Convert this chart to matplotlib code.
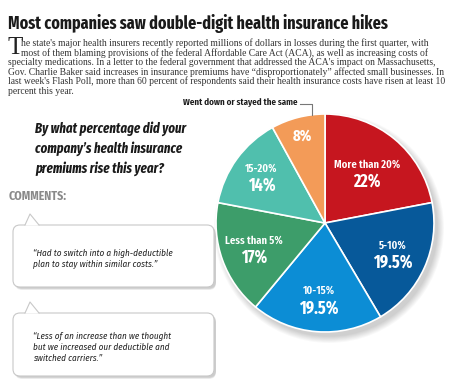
import matplotlib
matplotlib.use("Agg")
import matplotlib.pyplot as plt
import numpy as np
from matplotlib.patches import FancyBboxPatch, Polygon, Circle

W, H = 450, 386

# ---- data ----
categories = ["More than 20%", "5-10%", "10-15%", "Less than 5%", "15-20%",
              "Went down or stayed the same"]
shares = [22, 19.5, 19.5, 17, 14, 8]
value_labels = ["22%", "19.5%", "19.5%", "17%", "14%", "8%"]
colors = ["#C6161F", "#07599A", "#0C8DD5", "#3D9D6A", "#50BFAD", "#F39B58"]

title = "Most companies saw double-digit health insurance hikes"
body_lines = [
    "he state's major health insurers recently reported millions of dollars in losses during the first quarter, with",
    "most of them blaming provisions of the federal Affordable Care Act (ACA), as well as increasing costs of",
    "specialty medications. In a letter to the federal government that addressed the ACA's impact on Massachusetts,",
    "Gov. Charlie Baker said increases in insurance premiums have \u201cdisproportionately\u201d affected small businesses. In",
    "last week's Flash Poll, more than 60 percent of respondents said their health insurance costs have risen at least 10",
    "percent this year.",
]
question = "By what percentage did your\ncompany\u2019s health insurance\npremiums rise this year?"
comments = [
    "\u201cHad to switch into a high-deductible\nplan to stay within similar costs.\u201d",
    "\u201cLess of an increase than we thought\nbut we increased our deductible and\nswitched carriers.\u201d",
]

XCOND = ["Fira Sans Extra Condensed", "DejaVu Sans"]
COND = ["Fira Sans Condensed", "DejaVu Sans"]
SERIF = ["Liberation Serif", "DejaVu Serif"]


def Y(y):
    return H - y


fig = plt.figure(figsize=(W / 100, H / 100), dpi=100)
ax = fig.add_axes([0, 0, 1, 1])

# title + intro text
ax.text(8, Y(29), title, fontsize=12.5, fontweight="bold", family=XCOND,
        color="#1a1a1a", va="baseline")
ax.text(7, Y(54), "T", fontsize=18, family=SERIF, color="#222222", va="baseline")
body_x = [21, 21, 8, 8, 8, 8]
for i, line in enumerate(body_lines):
    ax.text(body_x[i], Y(46 + i * 9.6), line, fontsize=6.9, family=SERIF,
            color="#333333", va="baseline")

# pie with a soft shadow
cx, cy, R = 325, Y(223), 109
for k in range(8):
    ax.add_patch(Circle((cx + 4, cy - 5), R + 6 - k * 0.9, color="#000000",
                        alpha=0.025, lw=0, zorder=1))
wedges, _ = ax.pie(shares, colors=colors, startangle=90, counterclock=False,
                   center=(cx, cy), radius=R, frame=True,
                   wedgeprops=dict(edgecolor="white", linewidth=1.2, zorder=2))
ax.set_xlim(0, W)
ax.set_ylim(0, H)
ax.set_aspect("equal")
ax.axis("off")

label_r = [0.60, 0.68, 0.70, 0.69, 0.72, 0.82]
for i, w in enumerate(wedges):
    ang = np.deg2rad((w.theta1 + w.theta2) / 2)
    x = cx + label_r[i] * R * np.cos(ang)
    y = cy + label_r[i] * R * np.sin(ang)
    if i == len(wedges) - 1:
        ax.text(x, y, value_labels[i], ha="center", va="center", color="white",
                fontsize=11.5, fontweight="bold", family=XCOND, zorder=3)
    else:
        ax.text(x, y + 8, categories[i], ha="center", va="center", color="white",
                fontsize=8.3, fontweight="semibold", family=XCOND, zorder=3)
        ax.text(x, y - 9, value_labels[i], ha="center", va="center", color="white",
                fontsize=12.5, fontweight="bold", family=XCOND, zorder=3)

# callout for the small slice
ax.text(183, Y(103), categories[-1], fontsize=7, fontweight="semibold", family=XCOND,
        color="#1a1a1a", va="center")
ax.plot([300, 312, 312], [Y(104), Y(104), Y(115)], color="#777777", lw=0.8, zorder=4)

# question
ax.text(35, Y(121), question, fontsize=10, fontweight="bold", fontstyle="italic",
        family=XCOND, color="#1a1a1a", va="top", linespacing=1.45)
ax.text(9, Y(196), "COMMENTS:", fontsize=8.5, fontweight="bold", family=COND,
        color="#8a8a8a", va="center")

# comment bubbles
boxes = [(13, 225, 201, 62), (13, 313, 201, 63)]
for (bx, by, bw, bh), txt in zip(boxes, comments):
    for k in range(4):
        ax.add_patch(FancyBboxPatch((bx + 2, Y(by + bh) - 3 + k * 0.5), bw, bh,
                                    boxstyle="round,pad=0,rounding_size=7",
                                    fc="#000000", ec="none", alpha=0.05, zorder=1))
    ax.add_patch(FancyBboxPatch((bx, Y(by + bh)), bw, bh,
                                boxstyle="round,pad=0,rounding_size=7",
                                fc="white", ec="#c8c8c8", lw=0.8, zorder=2))
    tri = [(bx + 12, Y(by) - 0.6), (bx + 17, Y(by - 11)), (bx + 26, Y(by) - 0.6)]
    ax.add_patch(Polygon(tri, closed=True, fc="white", ec="none", zorder=3))
    ax.plot([tri[0][0], tri[1][0], tri[2][0]], [Y(by), tri[1][1], Y(by)],
            color="#c8c8c8", lw=0.8, zorder=3)
    ax.text(bx + 20, Y(by + bh / 2 + 3), txt, fontsize=6.6, fontstyle="italic",
            family=COND, color="#222222", va="center", linespacing=1.25, zorder=4)

fig.savefig("out.png", dpi=100, facecolor="white")
